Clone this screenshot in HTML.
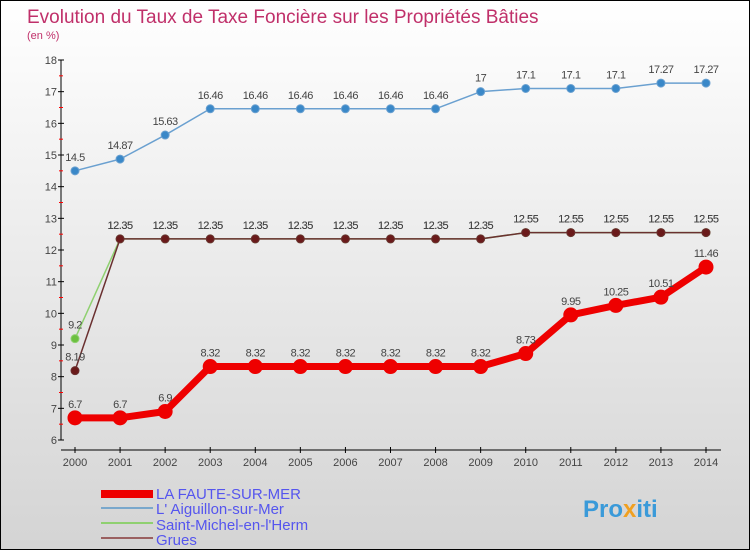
<!DOCTYPE html>
<html><head><meta charset="utf-8"><style>
body{margin:0;}
#c{width:748px;height:548px;border:1px solid #000;background:linear-gradient(#fff,#d4d4d4);position:relative;overflow:hidden;font-family:"Liberation Sans",sans-serif;}
</style></head><body>
<div id="c">
<svg id="s" width="748" height="548" xmlns="http://www.w3.org/2000/svg">
<text x="26" y="22" font-size="19" fill="#c0306a">Evolution du Taux de Taxe Foncière sur les Propriétés Bâties</text>
<text x="26" y="38" font-size="11" fill="#c0306a">(en %)</text>
<g id="axes"></g><g id="series"></g>
<g font-size="15" fill="#5555ee">
<rect x="100" y="489" width="52" height="8" fill="#e00"/>
<text x="155" y="498">LA FAUTE-SUR-MER</text>
<rect x="100" y="506" width="52" height="2" fill="#7aa8cc"/>
<text x="155" y="513">L' Aiguillon-sur-Mer</text>
<rect x="100" y="521" width="52" height="2" fill="#8fd070"/>
<text x="155" y="529">Saint-Michel-en-l'Herm</text>
<rect x="100" y="536" width="52" height="2" fill="#9a6060"/>
<text x="155" y="544">Grues</text>
</g>
<text x="582" y="516" font-size="24" font-weight="bold" fill="#3a9ad9">Pro<tspan fill="#f0a020">x</tspan>iti</text>
</svg>
</div>
<script>
const years=[2000,2001,2002,2003,2004,2005,2006,2007,2008,2009,2010,2011,2012,2013,2014];
const yTicks=[6,7,8,9,10,11,12,13,14,15,16,17,18];
const lafaute=[6.7,6.7,6.9,8.32,8.32,8.32,8.32,8.32,8.32,8.32,8.73,9.95,10.25,10.51,11.46];
const aiguillon=[14.5,14.87,15.63,16.46,16.46,16.46,16.46,16.46,16.46,17,17.1,17.1,17.1,17.27,17.27];
const stmichel=[9.2,12.35,12.35,12.35,12.35,12.35,12.35,12.35,12.35,12.35,12.55,12.55,12.55,12.55,12.55];
const grues=[8.19,12.35,12.35,12.35,12.35,12.35,12.35,12.35,12.35,12.35,12.55,12.55,12.55,12.55,12.55];
const NS='http://www.w3.org/2000/svg';
const X=i=>74+i*(705-74)/(years.length-1);
const Y=v=>439-(v-6)*(380/12);
function mk(t,a,p){const e=document.createElementNS(NS,t);for(const k in a)e.setAttribute(k,a[k]);p.appendChild(e);return e;}
const ax=document.getElementById('axes');
const ya=mk('line',{x1:60,y1:Y(18),x2:60,y2:Y(6),stroke:'#000'},ax);


yTicks.forEach(v=>{
 mk('line',{x1:57,x2:63,y1:Y(v),y2:Y(v),stroke:'#000'},ax);
 if(v<18)mk('line',{x1:58,x2:62,y1:Y(v+0.5),y2:Y(v+0.5),stroke:'#f00'},ax);
 const t=mk('text',{x:56,y:Y(v)+4,'text-anchor':'end','font-size':11,fill:'#444'},ax);t.textContent=v;
 
 
});
const xa=mk('line',{x1:60,y1:449,x2:720,y2:449,stroke:'#000'},ax);


years.forEach((y,i)=>{
 mk('line',{x1:X(i),x2:X(i),y1:446,y2:452,stroke:'#000'},ax);
 const t=mk('text',{x:X(i),y:465,'text-anchor':'middle','font-size':11,fill:'#444'},ax);t.textContent=y;
 
 
});
const sg=document.getElementById('series');
function series(d,name,col,w,r,dot){
 const g=mk('g',{},sg);
 
 
 mk('polyline',{points:d.map((v,i)=>X(i)+','+Y(v)).join(' '),fill:'none',stroke:col,'stroke-width':w,'stroke-linejoin':'round'},g);
 d.forEach((v,i)=>{
  const c=mk('circle',{cx:X(i),cy:Y(v),r:r,fill:dot,stroke:col,'stroke-width':1},g);
  
  
  const t=mk('text',{x:X(i),y:Y(v)-10,'text-anchor':'middle','font-size':11,fill:'#444','letter-spacing':'-0.5'},g);t.textContent=v;
  
  
 });
}
series(aiguillon,'aiguillon','#6aa0d0',1.5,4,'#3a88c8');
series(stmichel,'saint-michel','#8fd070',1.5,4,'#6cc040');
series(grues,'grues','#6a3030',1.5,4,'#6a1a1a');
series(lafaute,'la-faute','#e00',7,7,'#e00');
</script>
</body></html>
